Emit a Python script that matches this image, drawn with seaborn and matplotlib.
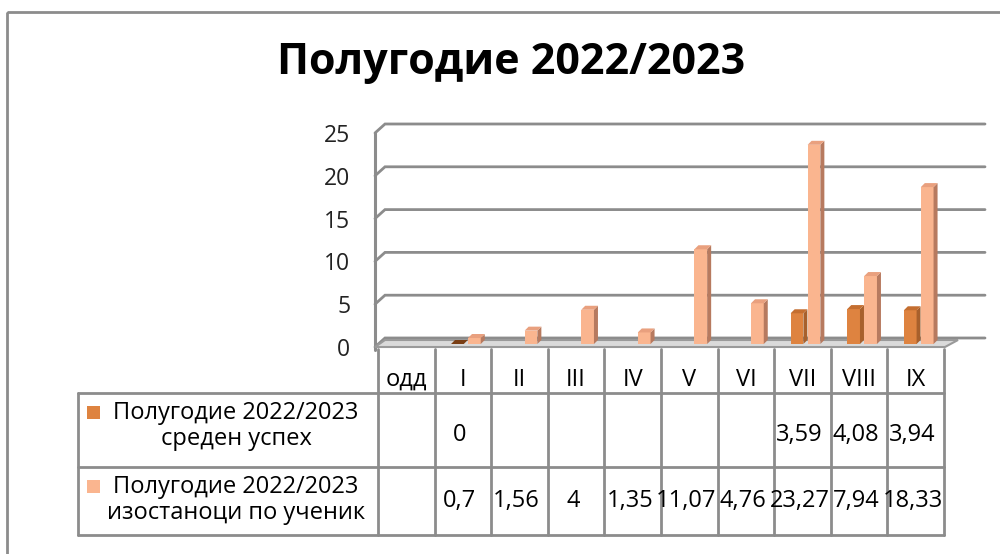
import numpy as np
import pandas as pd
import matplotlib
matplotlib.use("Agg")
import matplotlib.pyplot as plt
import matplotlib.transforms as mtrans
from matplotlib.patches import Polygon, Rectangle
import seaborn as sns

# ---------------- data ----------------
categories = ['одд', 'I', 'II', 'III', 'IV', 'V', 'VI', 'VII', 'VIII', 'IX']
series_names = ['Полугодие 2022/2023\nсреден успех',
                'Полугодие 2022/2023\nизостаноци по ученик']
avg_grade = [np.nan, 0, np.nan, np.nan, np.nan, np.nan, np.nan, 3.59, 4.08, 3.94]
absences = [np.nan, 0.7, 1.56, 4, 1.35, 11.07, 4.76, 23.27, 7.94, 18.33]
y_ticks = [0, 5, 10, 15, 20, 25]
title = 'Полугодие 2022/2023'

front_colors = ['#DE8340', '#FAB58F']
side_colors = ['#A8602C', '#B77A5F']
top_colors = ['#C46E30', '#E9A07E']

# ---------------- style ----------------
sns.set_theme(style='white')
FONT = ['Open Sans', 'DejaVu Sans']
plt.rcParams['font.family'] = FONT

W, H = 1000, 554
fig = plt.figure(figsize=(W / 100, H / 100), dpi=100)
pix = mtrans.Affine2D().scale(1 / W, -1 / H).translate(0, 1) + fig.transFigure
to_pix = lambda disp: pix.inverted().transform(disp)

GRID = '#8C8C8C'

# main axes (front plane)
x_left, x_right = 378, 944
y_zero, y_top = 347, 133
ax = fig.add_axes([x_left / W, 1 - y_zero / H, (x_right - x_left) / W, (y_zero - y_top) / H])
ax.set_facecolor('none')

df = pd.DataFrame({
    'cat': categories * 2,
    'series': [series_names[0]] * len(categories) + [series_names[1]] * len(categories),
    'value': avg_grade + absences,
})
sns.barplot(data=df, x='cat', y='value', hue='series', order=categories,
            hue_order=series_names, palette=front_colors, width=0.6, gap=0.25,
            saturation=1, ax=ax, legend=False, zorder=3)
bars = [p for p in ax.patches if isinstance(p, Rectangle)]
ax.set_xlim(-0.5, len(categories) - 0.5)
ax.set_ylim(0, 25)
ax.set_yticks(y_ticks)
ax.set_yticklabels([str(t) for t in y_ticks], fontsize=16.5, color='#222222')
ax.tick_params(axis='y', length=0, pad=20)
ax.set_xticks([])
ax.set_xlabel('')
ax.set_ylabel('')
for s in ax.spines.values():
    s.set_visible(False)

# pixel helpers from the axes' scales
def xp(x):
    return to_pix(ax.transData.transform((x, 0)))[0]

def yp(y):
    return to_pix(ax.transData.transform((0, y)))[1]

DX, DY = 10, 9
x_wall = x_left - 3
grid_right = 985
n = len(categories)

# floor
y0 = yp(0)
floor = Polygon([(x_wall, y0), (xp(n - 0.5) + 1, y0),
                 (xp(n - 0.5) + 1 + 13, y0 - 7), (x_wall + DX, y0 - DY + 2)],
                closed=True, facecolor='#DADADA', edgecolor='#9A9A9A', lw=1.5,
                transform=pix, clip_on=False, zorder=1)
ax.add_patch(floor)

# back-wall gridlines with the left-wall slant
for t in y_ticks:
    yy = yp(t)
    ax.plot([x_wall, x_wall + DX, grid_right], [yy, yy - DY, yy - DY], color=GRID, lw=2,
            transform=pix, clip_on=False, zorder=0.5, solid_joinstyle='miter')
ax.plot([x_wall, x_wall], [y0 + 3, yp(25)], color=GRID, lw=2.2, transform=pix,
        clip_on=False, zorder=0.6)

# bar 3D faces, from the bars seaborn placed
shift = mtrans.ScaledTranslation(3 / 100, 3 / 100, fig.dpi_scale_trans)
bd, bh = 4, 4
for p in bars:
    xc = p.get_x() + p.get_width() / 2
    ci = int(round(xc))
    s = 0 if xc < ci else 1
    vals = avg_grade if s == 0 else absences
    if np.isnan(vals[ci]):
        continue
    p.set_transform(ax.transData + shift)
    p.set_edgecolor('none')
    x0, yb = p.get_x(), p.get_y()
    x1, yt = x0 + p.get_width(), yb + p.get_height()
    (X0, YT), (X1, YB) = to_pix((ax.transData + shift).transform([(x0, yt), (x1, yb)]))
    side = Polygon([(X1, YB), (X1, YT), (X1 + bd, YT - bh), (X1 + bd, YB - bh)],
                   facecolor=side_colors[s], edgecolor='none', transform=pix,
                   clip_on=False, zorder=3)
    top = Polygon([(X0, YT), (X1, YT), (X1 + bd, YT - bh), (X0 + bd, YT - bh)],
                  facecolor=top_colors[s] if vals[ci] > 0 else '#7A3E14',
                  edgecolor='none', transform=pix, clip_on=False, zorder=3)
    ax.add_patch(side)
    ax.add_patch(top)

# ---------------- overlay: title, table, frame ----------------
ov = fig.add_axes([0, 0, 1, 1])
ov.set_xlim(0, W)
ov.set_ylim(H, 0)
ov.axis('off')
ov.set_zorder(5)

ov.add_patch(Rectangle((7, 12), W, H, fill=False, edgecolor='#8C8C8C', lw=2))
ov.text(511, 63, title, ha='center', va='center', fontsize=31, fontweight='bold',
        color='black')

lw_t = 2
col_edges = [xp(i - 0.5) for i in range(n + 1)]
y_head_top, y_r1, y_r2, y_bot = 349, 393, 467, 535
tab_left = 78
for xe in col_edges:
    ov.plot([xe, xe], [y_head_top, y_bot], color=GRID, lw=lw_t)
ov.plot([tab_left, tab_left], [y_r1, y_bot], color=GRID, lw=lw_t)
for yy in (y_r1, y_r2, y_bot):
    ov.plot([tab_left, col_edges[-1]], [yy, yy], color=GRID, lw=lw_t)

FS = 17
for i, c in enumerate(categories):
    ov.text(xp(i), 380, c, ha='center', va='center', fontsize=FS, color='black')

def fmt(v):
    return f'{v:g}'.replace('.', ',')

row_centers = [(y_r1 + y_r2) / 2 + 5, (y_r2 + y_bot) / 2]
for s, vals in enumerate([avg_grade, absences]):
    for i, v in enumerate(vals):
        if not np.isnan(v):
            ov.text(xp(i) - 3, row_centers[s], fmt(v), ha='center', va='center',
                    fontsize=FS, color='black')

label_centers = [426, 500]
for s, name in enumerate(series_names):
    ov.text(236, label_centers[s], name, ha='center', va='center', fontsize=FS,
            color='black', multialignment='center', linespacing=1.15)
    ov.add_patch(Rectangle((87, label_centers[s] - 20), 13, 13,
                           facecolor=front_colors[s], edgecolor='none'))

fig.savefig('out.png', dpi=100)
